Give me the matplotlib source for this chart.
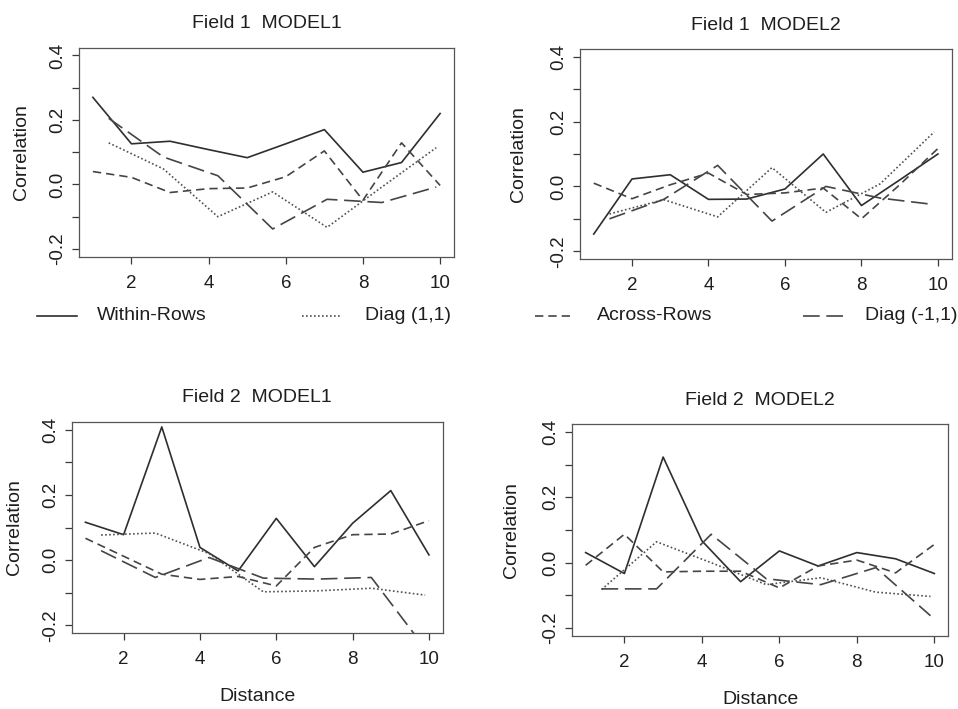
import matplotlib
matplotlib.use('Agg')
import matplotlib.pyplot as plt
from matplotlib.lines import Line2D

plt.rcParams['font.family'] = ['Liberation Sans', 'DejaVu Sans']
plt.rcParams['font.size'] = 14

dist_rows = [1, 2, 3, 4, 5, 6, 7, 8, 9, 10]
dist_diag = [1.41, 2.83, 4.24, 5.66, 7.07, 8.49, 9.90]

titles = ['Field 1  MODEL1', 'Field 1  MODEL2', 'Field 2  MODEL1', 'Field 2  MODEL2']
series_names = ['Within-Rows', 'Diag (1,1)', 'Across-Rows', 'Diag (-1,1)']

# field 1, model 1
within_f1m1 = [0.27, 0.126, 0.134, 0.108, 0.083, 0.126, 0.17, 0.038, 0.068, 0.22]
across_f1m1 = [0.04, 0.022, -0.025, -0.013, -0.011, 0.024, 0.104, -0.049, 0.129, -0.003]
diag11_f1m1 = [0.129, 0.048, -0.10, -0.023, -0.133, -0.008, 0.114]
diagm11_f1m1 = [0.205, 0.085, 0.027, -0.138, -0.046, -0.056, -0.008]

# field 1, model 2
within_f1m2 = [-0.147, 0.023, 0.036, -0.040, -0.039, -0.008, 0.10, -0.059, 0.02, 0.10]
across_f1m2 = [0.01, -0.038, 0.005, 0.041, -0.025, -0.02, -0.005, -0.10, 0.005, 0.117]
diag11_f1m2 = [-0.085, -0.041, -0.094, 0.058, -0.08, 0.008, 0.168]
diagm11_f1m2 = [-0.10, -0.04, 0.065, -0.107, 0.0, -0.036, -0.056]

# field 2, model 1
within_f2m1 = [0.116, 0.078, 0.408, 0.039, -0.033, 0.128, -0.02, 0.113, 0.213, 0.016]
across_f2m1 = [0.067, 0.012, -0.043, -0.059, -0.05, -0.079, 0.039, 0.078, 0.08, 0.121]
diag11_f2m1 = [0.077, 0.083, 0.02, -0.097, -0.094, -0.086, -0.107]
diagm11_f2m1 = [0.029, -0.053, 0.008, -0.055, -0.058, -0.053, -0.27]

# field 2, model 2
within_f2m2 = [0.031, -0.033, 0.323, 0.067, -0.058, 0.036, -0.01, 0.031, 0.012, -0.033]
across_f2m2 = [-0.008, 0.087, -0.028, -0.026, -0.026, -0.077, -0.01, 0.008, -0.031, 0.056]
diag11_f2m2 = [-0.082, 0.064, 0.0, -0.067, -0.046, -0.09, -0.103]
diagm11_f2m2 = [-0.08, -0.08, 0.087, -0.049, -0.067, -0.015, -0.162]

LINE = '#3a3a3a'
TXT = '#1e1e1e'
LW = 1.2
styles = {
  'within': dict(linestyle='-', color='#2e2e2e'),
  'diag11': dict(linestyle=(0, (1, 1.4)), color='#505050'),
  'across': dict(linestyle=(0, (5, 3)), color='#454545'),
  'diagm11': dict(linestyle=(0, (10, 4)), color='#454545'),
}

W, H = 958, 709

def axes_box(left, right, top, bottom):
  return [left / W, 1 - bottom / H, (right - left) / W, (bottom - top) / H]

def plot_panel(fig, box, title, within, across, diag11, diagm11, ylab_x, xlab_y=None):
  ax = fig.add_axes(axes_box(*box))
  ax.plot(dist_rows, within, lw=LW, **styles['within'])
  ax.plot(dist_diag, diag11, lw=LW, **styles['diag11'])
  ax.plot(dist_rows, across, lw=LW, **styles['across'])
  ax.plot(dist_diag, diagm11, lw=LW, **styles['diagm11'])
  ax.set_xlim(0.64, 10.36)
  ax.set_ylim(-0.224, 0.424)
  ax.set_xticks([2, 4, 6, 8, 10])
  ax.set_yticks([-0.2, 0.0, 0.2, 0.4])
  ax.set_yticklabels(['-0.2', '0.0', '0.2', '0.4'])
  ax.set_yticks([-0.1, 0.1, 0.3], minor=True)
  ax.tick_params(axis='both', which='both', direction='out', length=5, width=0.9,
                 color=LINE, labelcolor=TXT, labelsize=13.5)
  ax.tick_params(axis='x', pad=8)
  ax.tick_params(axis='y', labelrotation=90, pad=4)
  for lab in ax.get_yticklabels():
    lab.set_va('center')
  for s in ax.spines.values():
    s.set_color('#555555')
    s.set_linewidth(0.9)
  ax.set_title(title, fontsize=14, color=TXT, pad=14)
  left, right, top, bottom = box
  fig.text(ylab_x / W, 1 - (top + bottom) / 2 / H, 'Correlation', rotation=90,
           ha='center', va='center', fontsize=14, color=TXT)
  if xlab_y is not None:
    fig.text((left + right) / 2 / W, 1 - xlab_y / H, 'Distance',
             ha='center', va='center', fontsize=14, color=TXT)
  return ax

fig = plt.figure(figsize=(W / 100, H / 100), dpi=100)

plot_panel(fig, (79, 454, 47.7, 256.7), titles[0],
           within_f1m1, across_f1m1, diag11_f1m1, diagm11_f1m1, 21.7)
plot_panel(fig, (580, 951.7, 49, 259), titles[1],
           within_f1m2, across_f1m2, diag11_f1m2, diagm11_f1m2, 518.3)
plot_panel(fig, (71.7, 442.7, 421.7, 633.3), titles[2],
           within_f2m1, across_f2m1, diag11_f2m1, diagm11_f2m1, 15, 696.7)
plot_panel(fig, (571.7, 948.3, 424, 636), titles[3],
           within_f2m2, across_f2m2, diag11_f2m2, diagm11_f2m2, 511.7, 700)

# legend row between the two rows of panels
leg_y = 1 - 316 / H
leg_items = [
  ('within', 37, 77, 97),
  ('diag11', 302, 342, 365),
  ('across', 535, 575, 597),
  ('diagm11', 803, 843, 865),
]
for name, (key, x0, x1, xt) in zip(series_names, leg_items):
  fig.add_artist(Line2D([x0 / W, x1 / W], [leg_y, leg_y], transform=fig.transFigure,
                        lw=LW, **styles[key]))
  fig.text(xt / W, leg_y, name, ha='left', va='center', fontsize=14, color=TXT)

fig.savefig('out.png', dpi=100, facecolor='white')
